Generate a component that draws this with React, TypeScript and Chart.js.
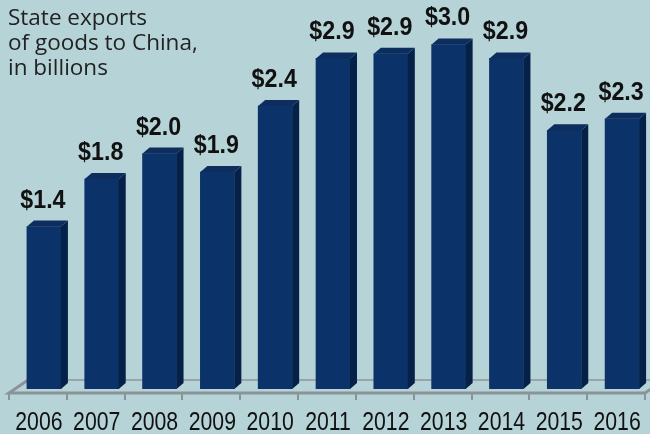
import React, { useEffect, useRef } from "react";
import { Chart, registerables } from "chart.js";

Chart.register(...registerables);

const years = ["2006", "2007", "2008", "2009", "2010", "2011", "2012", "2013", "2014", "2015", "2016"];
const exportsBillions = [1.4, 1.81, 2.03, 1.87, 2.44, 2.85, 2.89, 2.97, 2.85, 2.23, 2.33];
const valueLabels = ["$1.4", "$1.8", "$2.0", "$1.9", "$2.4", "$2.9", "$2.9", "$3.0", "$2.9", "$2.2", "$2.3"];
const titleLines = ["State exports", "of goods to China,", "in billions"];

const BG = "#b6d4d8";
const FRONT = "#0b3269";
const SIDE = "#062148";
const TOP = "#0c2d5e";

const DX = 7; // bar depth in x
const DY = 6; // bar depth in y
const FLOOR_SHIFT = 6; // floor front edge offset to the left of bar front

const depthPlugin = {
  id: "depth3d",
  beforeDatasetsDraw(chart: any) {
    const ctx = chart.ctx;
    const xs = chart.scales.x;
    const area = chart.chartArea;
    const n = years.length;
    const cat = (xs.right - xs.left) / n;
    const base = area.bottom;
    const frontY = base + 4;
    const backY = base - 9;
    const left = xs.left - FLOOR_SHIFT;
    ctx.save();
    ctx.strokeStyle = "#9aa4a8";
    ctx.lineWidth = 2;
    ctx.beginPath();
    ctx.moveTo(left + 19, backY);
    ctx.lineTo(700, backY);
    ctx.stroke();
    ctx.strokeStyle = "#8a9498";
    ctx.lineWidth = 3;
    ctx.beginPath();
    ctx.moveTo(left + 19, backY);
    ctx.lineTo(left, frontY);
    ctx.lineTo(left + n * cat, frontY);
    ctx.lineTo(left + n * cat + 19, backY);
    ctx.stroke();
    ctx.lineWidth = 2;
    for (let i = 0; i <= n; i++) {
      const x = Math.round(left + i * cat);
      ctx.beginPath();
      ctx.moveTo(x, frontY);
      ctx.lineTo(x, frontY + 7);
      ctx.stroke();
    }
    ctx.restore();
  },
  afterDatasetsDraw(chart: any) {
    const ctx = chart.ctx;
    const meta = chart.getDatasetMeta(0);
    const xs = chart.scales.x;
    const base = chart.chartArea.bottom;
    ctx.save();
    meta.data.forEach((bar: any, i: number) => {
      const { x, y, width } = bar.getProps(["x", "y", "width"], true);
      const b = base;
      const l = x - width / 2;
      const r = x + width / 2;
      ctx.fillStyle = SIDE;
      ctx.beginPath();
      ctx.moveTo(r, y);
      ctx.lineTo(r + DX, y - DY);
      ctx.lineTo(r + DX, b - DY);
      ctx.lineTo(r, b);
      ctx.closePath();
      ctx.fill();
      ctx.fillStyle = TOP;
      ctx.beginPath();
      ctx.moveTo(l, y);
      ctx.lineTo(l + DX, y - DY);
      ctx.lineTo(r + DX, y - DY);
      ctx.lineTo(r, y);
      ctx.closePath();
      ctx.fill();
      ctx.fillStyle = "#111111";
      ctx.font = "bold 25px 'Liberation Sans', Arial, sans-serif";
      ctx.textAlign = "center";
      ctx.textBaseline = "alphabetic";
      ctx.save();
      ctx.translate(x - 1, y - 19);
      ctx.scale(0.93, 1);
      ctx.fillText(valueLabels[i], 0, 0);
      ctx.restore();
    });
    ctx.fillStyle = "#111111";
    ctx.font = "25px 'Liberation Sans', Arial, sans-serif";
    ctx.textAlign = "center";
    ctx.textBaseline = "alphabetic";
    years.forEach((label, i) => {
      const cx = xs.getPixelForValue(i) - FLOOR_SHIFT + 1;
      ctx.save();
      ctx.translate(cx, base + 41);
      ctx.scale(0.85, 1);
      ctx.fillText(label, 0, 0);
      ctx.restore();
    });
    ctx.restore();
  },
};

export default function App() {
  const canvasRef = useRef<HTMLCanvasElement | null>(null);

  useEffect(() => {
    const canvas = canvasRef.current;
    if (!canvas) return;
    const chart = new Chart(canvas, {
      type: "bar",
      data: {
        labels: years,
        datasets: [
          {
            data: exportsBillions,
            backgroundColor: FRONT,
            borderWidth: 0,
            barThickness: 34,
          },
        ],
      },
      options: {
        responsive: false,
        animation: false,
        devicePixelRatio: 1,
        layout: { padding: { left: 15, right: 9, top: 17.8, bottom: 0 } },
        plugins: { legend: { display: false }, tooltip: { enabled: false }, title: { display: false } },
        scales: {
          x: {
            grid: { display: false, drawTicks: false },
            border: { display: false },
            ticks: { display: false },
            afterFit: (scale: any) => {
              scale.height = 45;
              scale.paddingLeft = 0;
              scale.paddingRight = 0;
            },
          },
          y: {
            display: false,
            min: 0,
            max: 3.2,
          },
        },
      },
      plugins: [depthPlugin],
    });
    return () => chart.destroy();
  }, []);

  return (
    <div
      style={{
        position: "fixed",
        left: 0,
        top: 0,
        width: 650,
        height: 434,
        overflow: "hidden",
        background: BG,
      }}
    >
      <canvas ref={canvasRef} width={660} height={434} style={{ display: "block" }} />
      <div
        style={{
          position: "absolute",
          left: 8,
          top: 4,
          fontFamily: "'Open Sans', sans-serif",
          fontSize: 22.5,
          lineHeight: "25px",
          color: "#222222",
        }}
      >
        {titleLines.map((t) => (
          <div key={t}>{t}</div>
        ))}
      </div>
    </div>
  );
}
